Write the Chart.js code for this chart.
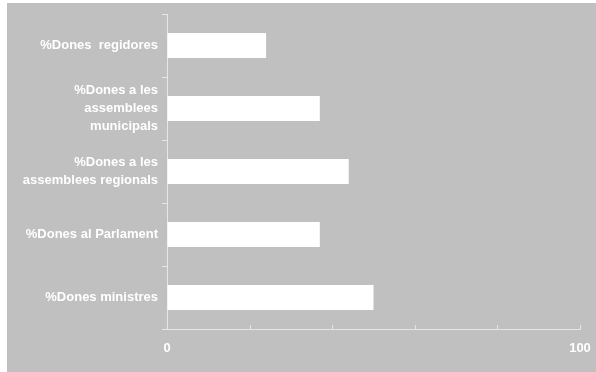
<!DOCTYPE html>
<html lang="ca">
<head>
  <meta charset="UTF-8" />
  <title>% Dones</title>
  <script src="https://cdn.jsdelivr.net/npm/chart.js"></script>
  <style>
    html, body { margin: 0; padding: 0; background: #fff; }
    #wrap { width: 596px; height: 372px; }
  </style>
</head>
<body>
  <div id="wrap"><canvas id="chart" width="596" height="372"></canvas></div>

  <script>
    // data
    const categories = [
      ["%Dones  regidores"],
      ["%Dones a les", "assemblees", "municipals"],
      ["%Dones a les", "assemblees regionals"],
      ["%Dones al Parlament"],
      ["%Dones ministres"]
    ];
    const values = [24, 37, 44, 37, 50];
    const xTickLabels = [0, 100];

    const GRAY = "#c0c0c0";
    const AXIS = "#e6e6e6";

    // grey panel behind everything (white margin on top/left)
    const panelBg = {
      id: "panelBg",
      beforeDraw(chart) {
        const c = chart.ctx;
        c.save();
        c.fillStyle = "#ffffff";
        c.fillRect(0, 0, chart.width, chart.height);
        c.fillStyle = GRAY;
        c.fillRect(7, 3, chart.width - 7, chart.height - 3);
        c.restore();
      }
    };

    // small inward ticks on the value axis
    const innerTicks = {
      id: "innerTicks",
      afterDraw(chart) {
        const x = chart.scales.x;
        const c = chart.ctx;
        c.save();
        c.strokeStyle = AXIS;
        c.lineWidth = 1;
        x.ticks.forEach(t => {
          const px = Math.round(x.getPixelForValue(t.value)) + 0.5;
          c.beginPath();
          c.moveTo(px, x.top);
          c.lineTo(px, x.top - 4);
          c.stroke();
        });
        c.restore();
      }
    };

    new Chart(document.getElementById("chart"), {
      type: "bar",
      data: {
        labels: categories,
        datasets: [{
          data: values,
          backgroundColor: "#ffffff",
          borderWidth: 0,
          barPercentage: 0.4,
          categoryPercentage: 1
        }]
      },
      options: {
        indexAxis: "y",
        responsive: false,
        animation: false,
        layout: { padding: { left: 0, top: 14, right: 16, bottom: 0 } },
        plugins: { legend: { display: false }, tooltip: { enabled: false } },
        scales: {
          x: {
            min: 0,
            max: 100,
            ticks: {
              stepSize: 20,
              color: "#ffffff",
              font: { family: "Liberation Sans", size: 13, weight: "bold" },
              padding: 12,
              maxRotation: 0,
              callback: v => xTickLabels.includes(v) ? String(v) : ""
            },
            grid: { drawOnChartArea: false, drawTicks: false },
            border: { color: AXIS, width: 1 },
            afterFit: s => { s.height = 43; s.paddingLeft = 0; s.paddingRight = 0; }
          },
          y: {
            ticks: {
              color: "#ffffff",
              font: { family: "Liberation Sans", size: 13, weight: "bold", lineHeight: 1.4 },
              padding: 4
            },
            grid: { drawOnChartArea: false, drawTicks: true, tickLength: 5, color: AXIS },
            border: { color: AXIS, width: 1 },
            afterFit: s => { s.width = 167; s.paddingTop = 0; s.paddingBottom = 0; }
          }
        }
      },
      plugins: [panelBg, innerTicks]
    });
  </script>
</body>
</html>
